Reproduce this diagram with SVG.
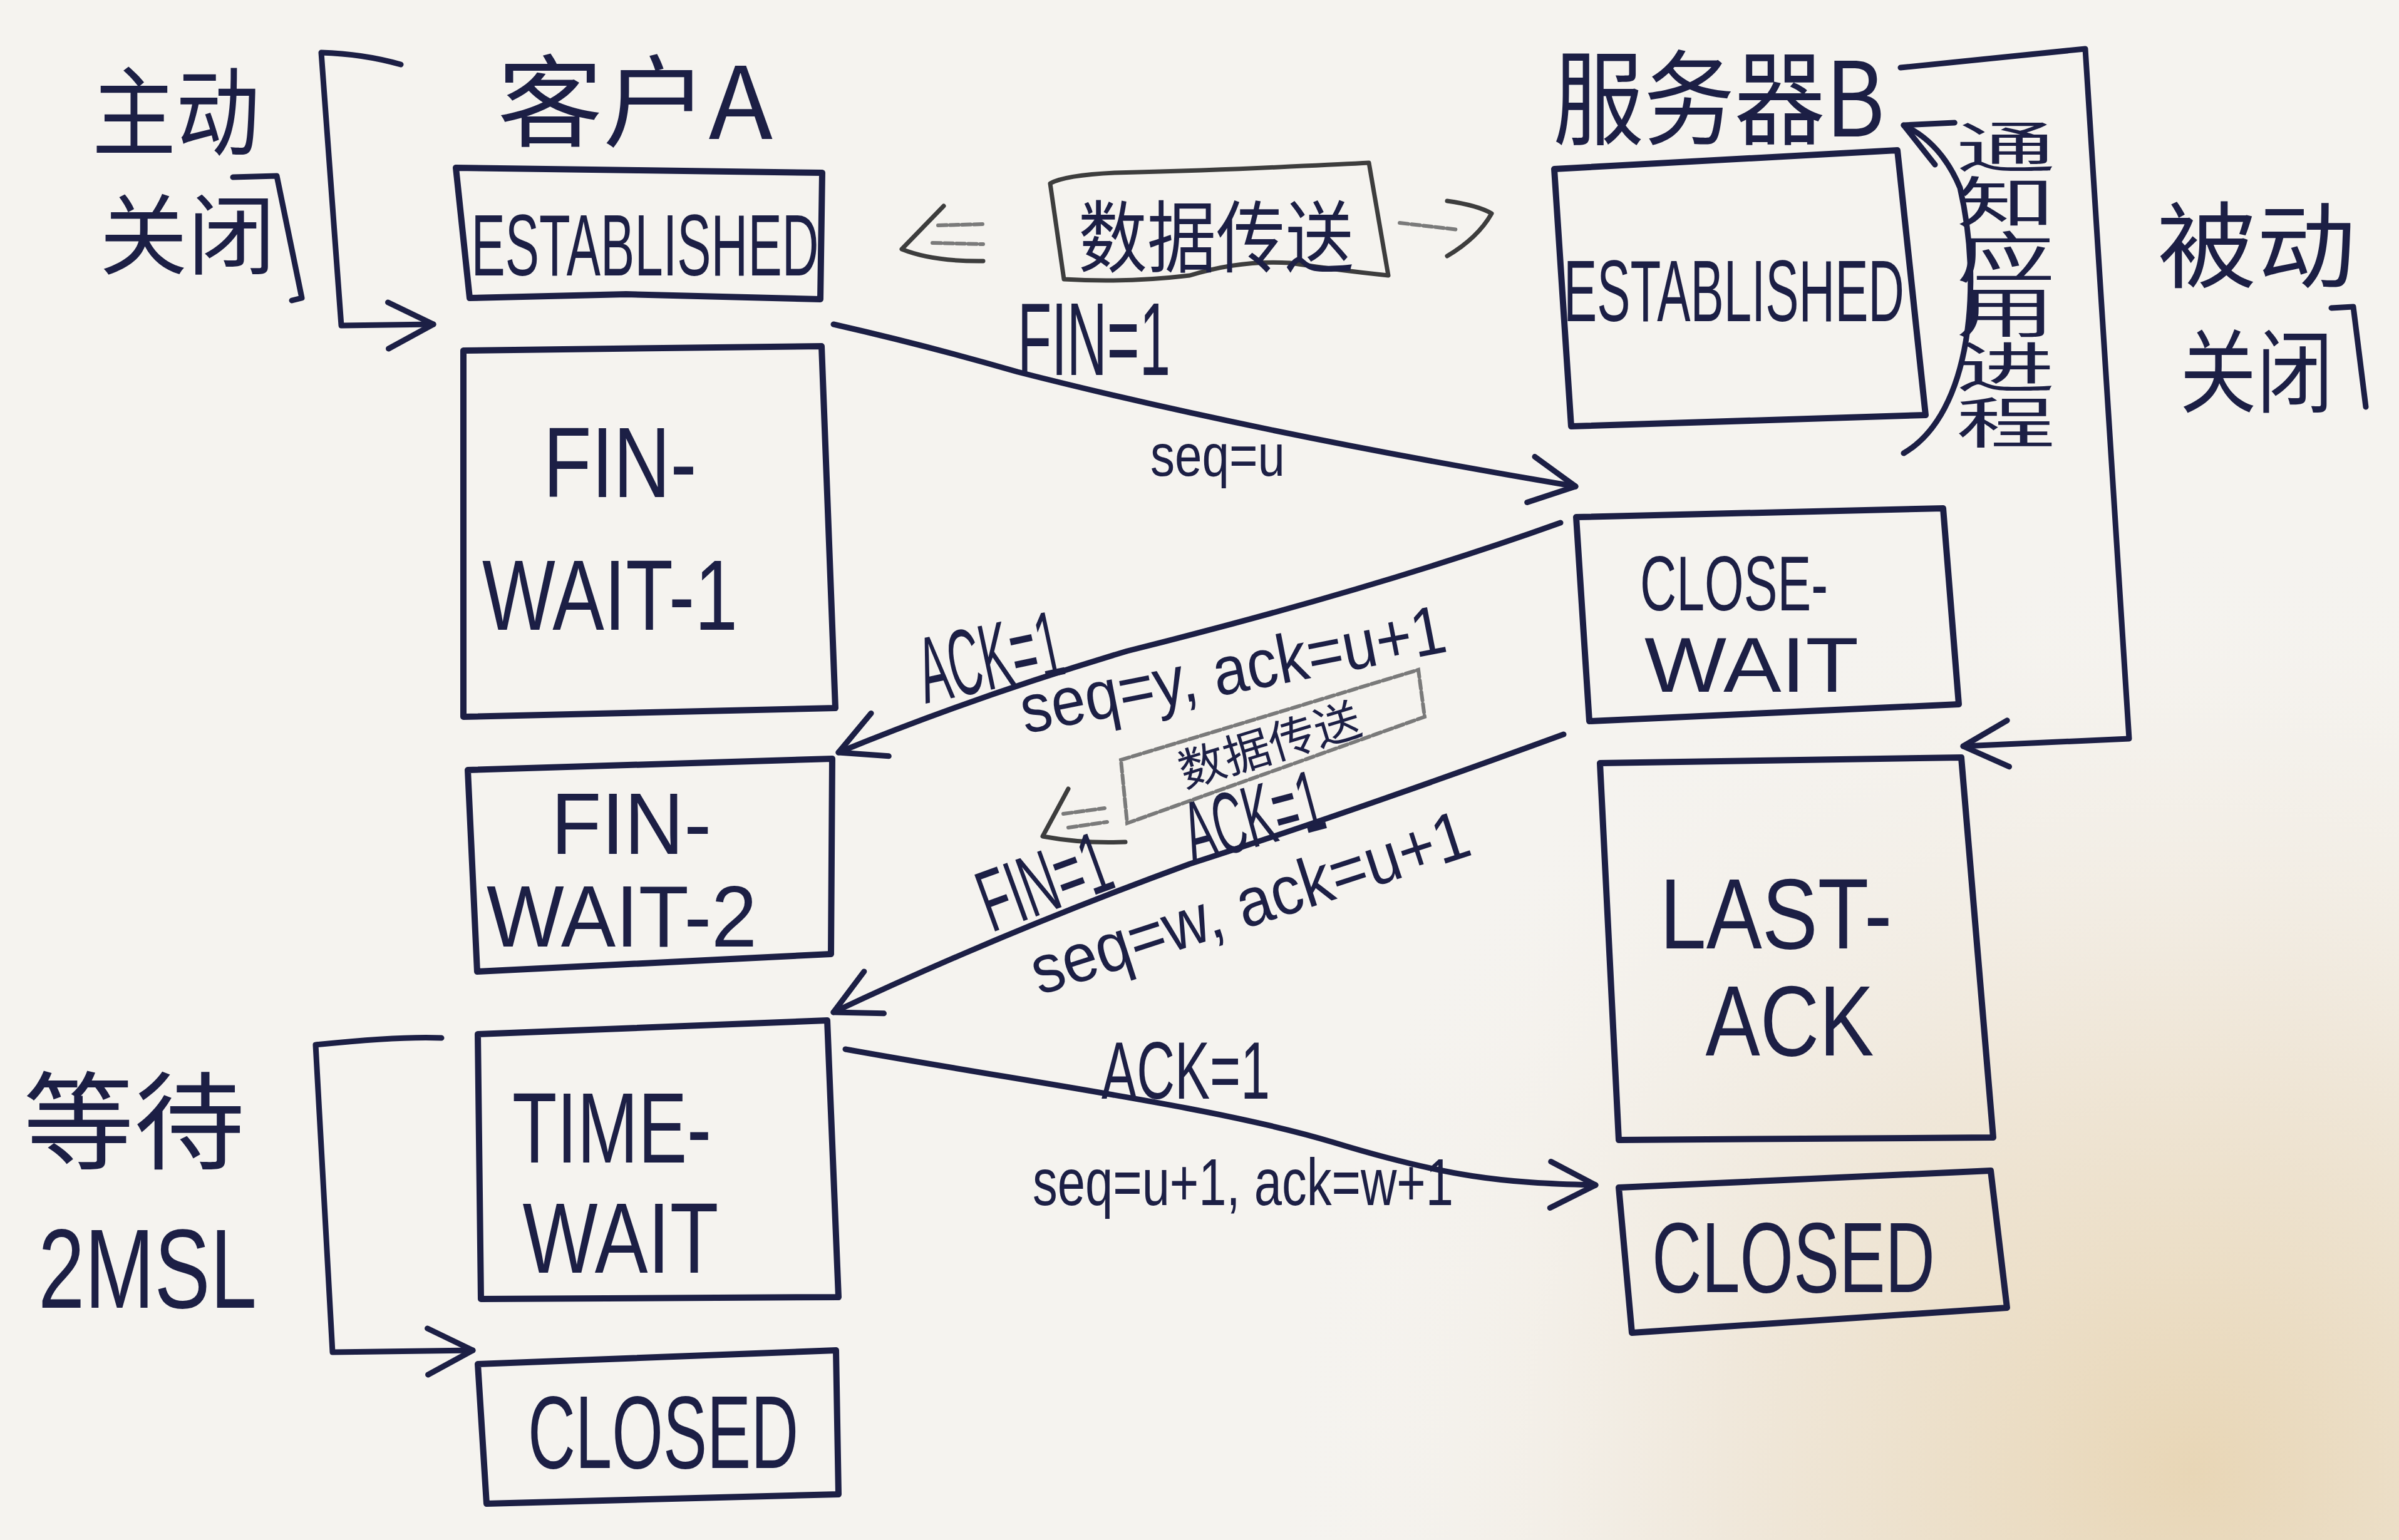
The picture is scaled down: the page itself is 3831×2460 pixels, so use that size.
<svg xmlns="http://www.w3.org/2000/svg" width="3831" height="2460" viewBox="0 0 3831 2460">
<defs>
<radialGradient id="warm" cx="3500" cy="2350" r="1500" gradientUnits="userSpaceOnUse">
<stop offset="0" stop-color="#e8d6b6"/>
<stop offset="0.5" stop-color="#f0e8db"/>
<stop offset="1" stop-color="#f5f3ef" stop-opacity="0"/>
</radialGradient>
<marker id="ah" viewBox="-90 -50 110 100" markerWidth="110" markerHeight="100" refX="0" refY="0" orient="auto" markerUnits="userSpaceOnUse" overflow="visible">
<path d="M-72,-36 L0,0 L-72,38" fill="none" stroke="#1c1f45" stroke-width="9" stroke-linecap="round" stroke-linejoin="round"/>
</marker>
<style>
.box{fill:none;stroke:#1c1f45;stroke-width:10;stroke-linejoin:round}
.ln{fill:none;stroke:#1c1f45;stroke-width:9;stroke-linecap:round;stroke-linejoin:round}
.gr{fill:none;stroke:#3d3d3d;stroke-width:7;stroke-linecap:round;stroke-linejoin:round}
.gr2{fill:none;stroke:#7a7a7a;stroke-width:6;stroke-linecap:round;stroke-dasharray:14 5}
.t{font-family:"Liberation Sans",Arial,sans-serif;fill:#1c1f45;text-anchor:middle}
.l{font-family:"Liberation Sans",Arial,sans-serif;fill:#1c1f45}
.c{font-family:"Noto Sans CJK SC","Liberation Sans",sans-serif;fill:#1c1f45}
</style>
</defs>
<rect width="3831" height="2460" fill="#f5f3ef"/>
<rect width="3831" height="2460" fill="url(#warm)"/>

<g id="titles">
<text class="c" x="794" y="222" font-size="160" textLength="440" lengthAdjust="spacingAndGlyphs">客户A</text>
<text class="c" x="2480" y="218" font-size="165" textLength="530" lengthAdjust="spacingAndGlyphs">服务器B</text>
<text class="c" x="147" y="236" font-size="155" textLength="268" lengthAdjust="spacingAndGlyphs">主动</text>
<text class="c" x="159" y="427" font-size="140" textLength="281" lengthAdjust="spacingAndGlyphs">关闭</text>
<text class="c" x="3445" y="448" font-size="150" textLength="317" lengthAdjust="spacingAndGlyphs">被动</text>
<text class="c" x="3481" y="648" font-size="145" textLength="245" lengthAdjust="spacingAndGlyphs">关闭</text>
<text class="c" x="37" y="1855" font-size="170" textLength="354" lengthAdjust="spacingAndGlyphs">等待</text>
<text class="l" x="61" y="2089" font-size="180" textLength="349" lengthAdjust="spacingAndGlyphs">2MSL</text>
</g>

<g id="a-established">
<polygon class="box" points="728,268 1020,272 1313,276 1310,478 1000,470 750,476"/>
<text class="t" x="1030" y="440" font-size="140" textLength="555" lengthAdjust="spacingAndGlyphs">ESTABLISHED</text>
</g>
<g id="a-fin-wait-1">
<polygon class="box" points="740,560 1312,553 1334,1131 740,1145"/>
<text class="t" x="990" y="794" font-size="160" textLength="245" lengthAdjust="spacingAndGlyphs">FIN-</text>
<text class="t" x="974" y="1006" font-size="160" textLength="408" lengthAdjust="spacingAndGlyphs">WAIT-1</text>
</g>
<g id="a-fin-wait-2">
<polygon class="box" points="747,1230 1329,1212 1327,1524 762,1552"/>
<text class="t" x="1008" y="1364" font-size="140" textLength="256" lengthAdjust="spacingAndGlyphs">FIN-</text>
<text class="t" x="993" y="1512" font-size="140" textLength="432" lengthAdjust="spacingAndGlyphs">WAIT-2</text>
</g>
<g id="a-time-wait">
<polygon class="box" points="763,1652 1321,1630 1339,2072 768,2075"/>
<text class="t" x="977" y="1857" font-size="160" textLength="318" lengthAdjust="spacingAndGlyphs">TIME-</text>
<text class="t" x="991" y="2033" font-size="160" textLength="313" lengthAdjust="spacingAndGlyphs">WAIT</text>
</g>
<g id="a-closed">
<polygon class="box" points="763,2179 1335,2157 1339,2387 777,2402"/>
<text class="t" x="1059" y="2345" font-size="165" textLength="432" lengthAdjust="spacingAndGlyphs">CLOSED</text>
</g>

<g id="b-established">
<polygon class="box" points="2482,270 3030,240 3075,663 2509,681"/>
<text class="t" x="2769" y="513" font-size="140" textLength="544" lengthAdjust="spacingAndGlyphs">ESTABLISHED</text>
</g>
<g id="b-close-wait">
<polygon class="box" points="2517,826 3103,812 3128,1125 2538,1152"/>
<text class="t" x="2769" y="975" font-size="125" textLength="300" lengthAdjust="spacingAndGlyphs">CLOSE-</text>
<text class="t" x="2797" y="1105" font-size="125" textLength="342" lengthAdjust="spacingAndGlyphs">WAIT</text>
</g>
<g id="b-last-ack">
<polygon class="box" points="2555,1219 3132,1210 3183,1817 2585,1821"/>
<text class="t" x="2836" y="1515" font-size="160" textLength="371" lengthAdjust="spacingAndGlyphs">LAST-</text>
<text class="t" x="2858" y="1686" font-size="160" textLength="269" lengthAdjust="spacingAndGlyphs">ACK</text>
</g>
<g id="b-closed">
<polygon class="box" points="2585,1897 3179,1870 3205,2089 2606,2129"/>
<text class="t" x="2864" y="2064" font-size="160" textLength="452" lengthAdjust="spacingAndGlyphs">CLOSED</text>
</g>

<g id="notify">
<g transform="translate(3203,0) scale(1.8,1)">
<text class="c" x="0" y="190" font-size="88" writing-mode="vertical-rl">通知应用进程</text>
</g>
</g>

<g id="data-transfer-1">
<path class="gr" d="M1677,293 Q1700,280 1780,276 Q1950,272 2060,266 Q2150,262 2186,260 L2217,440 Q2140,432 2060,420 Q1980,415 1900,440 Q1800,452 1699,446 Z"/>
<text class="c" x="1722" y="425" font-size="125" textLength="440" lengthAdjust="spacingAndGlyphs" fill="#333">数据传送</text>
<path class="gr" d="M1507,329 L1440,398 Q1490,418 1570,417"/>
<path class="gr2" d="M1498,360 L1570,358 M1489,388 L1570,390"/>
<path class="gr2" d="M2235,356 L2329,367"/>
<path class="gr" d="M2311,321 Q2360,328 2382,341 Q2360,380 2311,409"/>
</g>

<g id="data-transfer-2">
<polygon class="gr2" points="1790,1214 2265,1070 2275,1145 1800,1315"/>
<text class="c" x="0" y="0" font-size="72" text-anchor="middle" fill="#555" textLength="300" lengthAdjust="spacingAndGlyphs" transform="translate(2035,1215) rotate(-17)">数据传送</text>
<path class="gr" d="M1706,1260 L1665,1336 Q1730,1348 1797,1345" stroke="#666" stroke-width="5"/>
<path class="gr2" d="M1698,1300 L1764,1291 M1706,1322 L1768,1313"/>
</g>

<g id="connectors">
<path class="ln" d="M640,103 Q580,86 513,84 L545,520 L692,518" marker-end="url(#ah)"/>
<path class="ln" d="M372,283 L442,281 L482,476 L466,480"/>
<path class="ln" d="M3035,108 L3330,78 L3400,1180 L3135,1192" marker-end="url(#ah)"/>
<path class="ln" d="M3723,492 L3758,490 L3778,650"/>
<path class="ln" d="M705,1658 Q640,1655 504,1669 L531,2160 L755,2157" marker-end="url(#ah)"/>
<path class="ln" d="M3040,724 C3150,660 3165,450 3130,300 Q3100,228 3040,200" marker-end="url(#ah)"/>
<path class="ln" d="M1331,518 Q1480,552 1625,594 Q2000,690 2516,777" marker-end="url(#ah)"/>
<path class="ln" d="M2492,835 Q2200,940 1800,1040 Q1550,1115 1339,1202" marker-end="url(#ah)"/>
<path class="ln" d="M2497,1173 Q2150,1300 1900,1380 Q1600,1490 1331,1617" marker-end="url(#ah)"/>
<path class="ln" d="M1350,1676 C1650,1730 1950,1770 2130,1825 S2400,1890 2548,1893" marker-end="url(#ah)"/>
</g>

<g id="labels">
<text class="l" x="1625" y="599" font-size="165" textLength="244" lengthAdjust="spacingAndGlyphs">FIN=1</text>
<text class="l" x="1837" y="760" font-size="95" textLength="215" lengthAdjust="spacingAndGlyphs">seq=u</text>
<text class="l" font-size="150" textLength="232" lengthAdjust="spacingAndGlyphs" transform="translate(1478,1124) rotate(-12)">ACK=1</text>
<text class="l" font-size="110" textLength="690" lengthAdjust="spacingAndGlyphs" transform="translate(1637,1172) rotate(-11)">seq=y, ack=u+1</text>
<text class="l" font-size="140" textLength="215" lengthAdjust="spacingAndGlyphs" transform="translate(1583,1490) rotate(-20)">FIN=1</text>
<text class="l" font-size="140" textLength="225" lengthAdjust="spacingAndGlyphs" transform="translate(1905,1380) rotate(-15)">ACK=1</text>
<text class="l" font-size="110" textLength="730" lengthAdjust="spacingAndGlyphs" transform="translate(1660,1590) rotate(-18)">seq=w, ack=u+1</text>
<text class="l" x="1759" y="1755" font-size="130" textLength="269" lengthAdjust="spacingAndGlyphs">ACK=1</text>
<text class="l" x="1649" y="1925" font-size="105" textLength="672" lengthAdjust="spacingAndGlyphs">seq=u+1, ack=w+1</text>
</g>
</svg>
